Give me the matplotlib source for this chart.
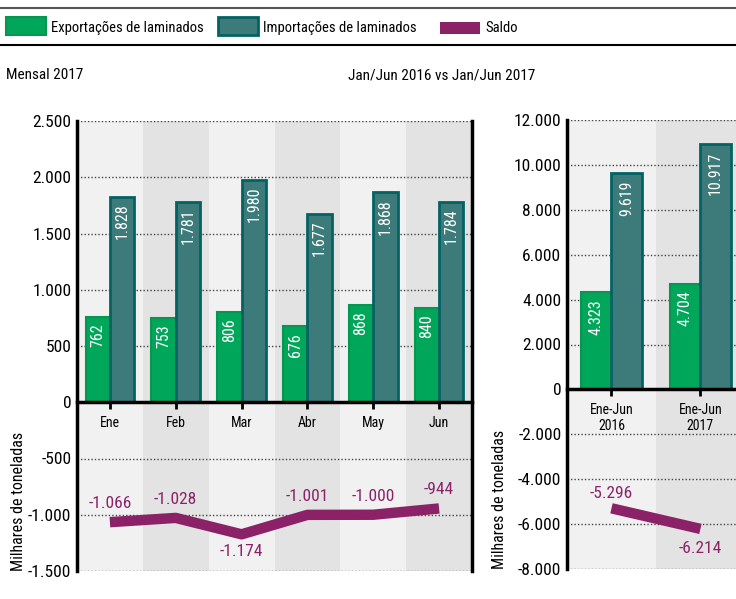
import matplotlib
matplotlib.use('Agg')
import matplotlib.pyplot as plt
from matplotlib.lines import Line2D
from matplotlib.patches import Rectangle
from matplotlib.ticker import FuncFormatter, MultipleLocator

plt.rcParams['font.family'] = ['Liberation Sans Narrow', 'Roboto Condensed', 'Liberation Sans', 'DejaVu Sans']

# datos mensuales 2017
meses = ['Ene', 'Feb', 'Mar', 'Abr', 'May', 'Jun']
export_mes = [762, 753, 806, 676, 868, 840]
import_mes = [1828, 1781, 1980, 1677, 1868, 1784]
saldo_mes = [-1066, -1028, -1174, -1001, -1000, -944]

# acumulado ene-jun
periodos = ['Ene-Jun\n2016', 'Ene-Jun\n2017']
export_acum = [4323, 4704]
import_acum = [9619, 10917]
saldo_acum = [-5296, -6214]

series = ['Exportações de laminados', 'Importações de laminados', 'Saldo']

verde = '#00a65a'
verde_borde = '#06964f'
teal = '#3d7b7b'
teal_borde = '#036363'
morado = '#8b2268'
banda1 = '#f1f1f1'
banda2 = '#e3e3e3'


def miles(v, pos=None):
    return f'{int(round(v)):,}'.replace(',', '.')


def panel(ax, cats, exp, imp, sal, w, step, abajo, dy_up, dy_down):
    x = list(range(len(cats)))
    for i in x:
        ax.axvspan(i - 0.5, i + 0.5, color=banda1 if i % 2 == 0 else banda2, zorder=0, lw=0)
    ax.bar([i - w / 2 for i in x], exp, w, color=verde, edgecolor=verde_borde, lw=1.5, zorder=2)
    ax.bar([i + w / 2 for i in x], imp, w, color=teal, edgecolor=teal_borde, lw=2, zorder=2)
    for i in x:
        ax.annotate(miles(exp[i]), (i - w / 2, exp[i]), xytext=(0, -5), textcoords='offset points',
                    rotation=90, ha='center', va='top', color='white', fontsize=11.5, zorder=3)
        ax.annotate(miles(imp[i]), (i + w / 2, imp[i]), xytext=(0, -5), textcoords='offset points',
                    rotation=90, ha='center', va='top', color='white', fontsize=11.5, zorder=3)
    ax.plot(x, sal, color=morado, lw=7.5, solid_capstyle='butt', zorder=3)
    for i in x:
        dy = -dy_down if i in abajo else dy_up
        ax.annotate(miles(sal[i]), (i, sal[i]), xytext=(0, dy), textcoords='offset points',
                    ha='center', va='top' if dy < 0 else 'bottom', color=morado, fontsize=12.5)
    ax.set_xticks(x)
    ax.set_xticklabels(cats, fontsize=12.5, linespacing=0.95)
    ax.yaxis.set_major_locator(MultipleLocator(step))
    ax.yaxis.set_major_formatter(FuncFormatter(miles))
    ax.tick_params(axis='y', length=0, labelsize=12.5, pad=4)
    ax.tick_params(axis='x', direction='out', length=5, width=2, pad=5)
    ax.spines['bottom'].set_position(('data', 0))
    ax.spines['bottom'].set_linewidth(2.5)
    ax.spines['left'].set_linewidth(2.5)
    ax.spines['top'].set_visible(False)
    ax.set_axisbelow(True)
    ax.yaxis.grid(True, linestyle=(0, (1, 1.5)), color='#444444', lw=1)
    ax.set_ylabel('Milhares de toneladas', loc='bottom', fontsize=11.5)


fig = plt.figure(figsize=(7.36, 5.99), dpi=100)

ax1 = fig.add_axes([77 / 736, 1 - 571 / 599, 395 / 736, 450 / 599])
panel(ax1, meses, export_mes, import_mes, saldo_mes, 0.37, 500, [2], 8, 7)
ax1.set_xlim(-0.5, 5.5)
ax1.set_ylim(-1500, 2500)
ax1.spines['right'].set_linewidth(2.5)
ax1.yaxis.set_label_coords(-0.129, 0)

ax2 = fig.add_axes([567 / 736, 1 - 569 / 599, 169 / 736, 449 / 599])
panel(ax2, periodos, export_acum, import_acum, saldo_acum, 0.34, 2000, [1], 5, 9)
ax2.set_xlim(-0.5, 1.4)
ax2.set_ylim(-8000, 12000)
ax2.spines['right'].set_visible(False)
ax2.yaxis.set_label_coords(-0.355, 0)

# leyenda a mano, posiciones como en el original
H, W = 599, 736
leg = [(6, 17, 18, verde, verde_borde, 1.5), (218, 17, 18, teal, teal_borde, 2),
       (440, 22, 12, morado, morado, 0)]
for (px, py, ph, fc, ec, lw), txt in zip(leg, series):
    fig.add_artist(Rectangle((px / W, 1 - (py + ph) / H), 40 / W, ph / H, transform=fig.transFigure,
                             facecolor=fc, edgecolor=ec, lw=lw))
    fig.text((px + 45) / W, 1 - 28 / H, txt, ha='left', va='center', fontsize=10.5)
fig.add_artist(Line2D([0, 1], [1 - 8 / H, 1 - 8 / H], color='#555555', lw=1.5))
fig.add_artist(Line2D([0, 1], [1 - 45 / H, 1 - 45 / H], color='black', lw=1.5))

fig.text(6 / W, 1 - 75 / H, 'Mensal 2017', va='center', ha='left', fontsize=11)
fig.text(348 / W, 1 - 75 / H, 'Jan/Jun 2016 vs Jan/Jun 2017', va='center', ha='left', fontsize=11)

plt.savefig('out.png', dpi=100)
